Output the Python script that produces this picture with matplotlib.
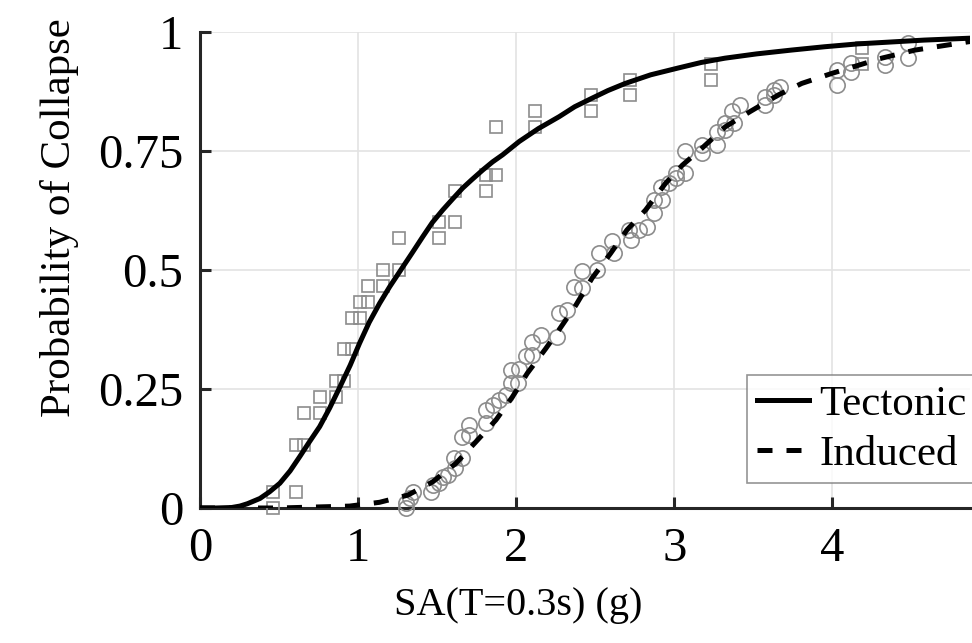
import numpy as np
import matplotlib
matplotlib.use("Agg")
import matplotlib.pyplot as plt

# ---------------- data ----------------
# fitted fragility curves
tect_x = [0.0, 0.1, 0.2, 0.252, 0.3, 0.379, 0.44, 0.505, 0.57, 0.631, 0.69, 0.757,
          0.82, 0.883, 0.95, 1.009, 1.07, 1.136, 1.2, 1.262, 1.34, 1.409, 1.47,
          1.535, 1.6, 1.661, 1.72, 1.788, 1.85, 1.914, 2.019, 2.14, 2.271, 2.37,
          2.48, 2.58, 2.69, 2.85, 3.02, 3.17, 3.32, 3.52, 3.74, 3.95, 4.16, 4.37,
          4.58, 4.87]
tect_p = [0.0, 0.0, 0.001, 0.004, 0.009, 0.02, 0.034, 0.052, 0.078, 0.108, 0.138,
          0.171, 0.21, 0.253, 0.30, 0.346, 0.39, 0.43, 0.465, 0.496, 0.535, 0.57,
          0.60, 0.626, 0.65, 0.672, 0.69, 0.71, 0.727, 0.742, 0.77, 0.797, 0.822,
          0.843, 0.861, 0.877, 0.892, 0.91, 0.924, 0.936, 0.945, 0.954, 0.962,
          0.969, 0.975, 0.979, 0.983, 0.987]

ind_x = [0.0, 0.5, 0.946, 1.136, 1.314, 1.472, 1.619, 1.745, 1.872, 1.977, 2.07,
         2.187, 2.27, 2.377, 2.48, 2.597, 2.70, 2.818, 2.944, 3.05, 3.175, 3.323,
         3.48, 3.659, 3.806, 3.996, 4.311, 4.522, 4.87]
ind_p = [0.0, 0.0, 0.004, 0.012, 0.027, 0.055, 0.094, 0.139, 0.185, 0.234, 0.283,
         0.335, 0.374, 0.426, 0.483, 0.535, 0.584, 0.626, 0.682, 0.72, 0.756, 0.801,
         0.833, 0.868, 0.892, 0.913, 0.945, 0.962, 0.98]

# empirical collapse fractions
tect_obs_x = [0.46, 0.46, 0.61, 0.61, 0.66, 0.66, 0.76, 0.76, 0.86, 0.86, 0.91,
              0.91, 0.96, 0.96, 1.01, 1.01, 1.06, 1.06, 1.16, 1.16, 1.26, 1.26,
              1.51, 1.51, 1.61, 1.61, 1.81, 1.81, 1.87, 1.87, 2.12, 2.12, 2.47,
              2.47, 2.72, 2.72, 3.23, 3.23, 4.19, 4.19]
tect_obs_n = [0, 1, 1, 4, 4, 6, 6, 7, 7, 8, 8, 10, 10, 12, 12, 13, 13, 14, 14, 15,
              15, 17, 17, 18, 18, 20, 20, 21, 21, 24, 24, 25, 25, 26, 26, 27, 27,
              28, 28, 29]
tect_obs_p = [n / 30 for n in tect_obs_n]

ind_obs_x = [1.30, 1.304, 1.33, 1.35, 1.462, 1.472, 1.514, 1.535, 1.567, 1.615,
             1.609, 1.66, 1.66, 1.70, 1.70, 1.81, 1.81, 1.85, 1.893, 1.935, 1.967,
             2.01, 1.967, 2.015, 2.06, 2.10, 2.10, 2.156, 2.26, 2.27, 2.32, 2.366,
             2.418, 2.418, 2.514, 2.524, 2.618, 2.608, 2.724, 2.713, 2.776, 2.83,
             2.87, 2.87, 2.92, 2.913, 2.965, 3.008, 3.008, 3.07, 3.07, 3.175, 3.175,
             3.27, 3.27, 3.323, 3.323, 3.375, 3.365, 3.418, 3.575, 3.575, 3.628,
             3.628, 3.67, 4.027, 4.027, 4.12, 4.12, 4.332, 4.332, 4.48, 4.48]
ind_obs_p = [0.0, 0.01, 0.02, 0.034, 0.034, 0.048, 0.052, 0.066, 0.069, 0.083,
             0.104, 0.104, 0.15, 0.153, 0.174, 0.178, 0.206, 0.216, 0.227, 0.237,
             0.262, 0.262, 0.29, 0.293, 0.319, 0.321, 0.349, 0.363, 0.36, 0.409,
             0.416, 0.465, 0.462, 0.497, 0.5, 0.535, 0.535, 0.56, 0.563, 0.584,
             0.584, 0.591, 0.619, 0.647, 0.647, 0.675, 0.682, 0.693, 0.703, 0.703,
             0.749, 0.745, 0.763, 0.763, 0.79, 0.794, 0.808, 0.808, 0.833, 0.847,
             0.847, 0.864, 0.868, 0.878, 0.885, 0.889, 0.92, 0.917, 0.934, 0.931,
             0.948, 0.945, 0.976]

x_ticks = [0, 1, 2, 3, 4]
y_ticks = [0, 0.25, 0.5, 0.75, 1]
y_ticklabels = ["0", "0.25", "0.5", "0.75", "1"]

# ---------------- figure ----------------
plt.rcParams['font.family'] = ['Liberation Serif', 'DejaVu Serif']

fig = plt.figure(figsize=(9.72, 6.43), dpi=100)
ax = fig.add_axes([200 / 972, 1 - 508 / 643, 770 / 972, 476 / 643])

gray = '#8c8c8c'
ax.plot(tect_obs_x, tect_obs_p, 's', ms=8, mfc='none', mec=gray, mew=1.2,
        clip_on=False, zorder=3)
ax.plot(ind_obs_x, ind_obs_p, 'o', ms=11, mfc='none', mec=gray, mew=1.2,
        clip_on=False, zorder=3)

ax.plot(tect_x, tect_p, '-', color='black', lw=3.6, label='Tectonic', zorder=4)
ax.plot(ind_x, ind_p, '--', color='black', lw=3.6, dashes=(3, 2.8),
        label='Induced', zorder=4)

ax.set_xlim(0, 4.87)
ax.set_ylim(0, 1)
ax.set_xticks(x_ticks)
ax.set_yticks(y_ticks)
ax.set_yticklabels(y_ticklabels)
ax.grid(True, color='#e3e3e3', lw=1.2)
ax.set_axisbelow(True)

for side in ['top', 'right']:
    ax.spines[side].set_visible(False)
for side in ['left', 'bottom']:
    ax.spines[side].set_linewidth(2.2)
    ax.spines[side].set_color('#262626')
ax.tick_params(direction='in', length=8, width=2.2, color='#262626',
               labelsize=35, pad=14)
ax.tick_params(axis='y', pad=12)

ax.set_xlabel("SA(T=0.3s) (g)", fontsize=29)
ax.xaxis.set_label_coords(0.413, -0.166)
ax.set_ylabel("Probability of Collapse", fontsize=31)
ax.yaxis.set_label_coords(-0.157, 0.61)

leg = ax.legend(loc='lower right', bbox_to_anchor=(1.008, 0.052), fontsize=31,
                frameon=True, fancybox=False, handlelength=1.2,
                handletextpad=0.25, borderpad=0.22, labelspacing=0.25,
                borderaxespad=0.0)
leg.get_frame().set_edgecolor('#7a7a7a')
leg.get_frame().set_linewidth(1.2)

fig.savefig("out.png", dpi=100)
